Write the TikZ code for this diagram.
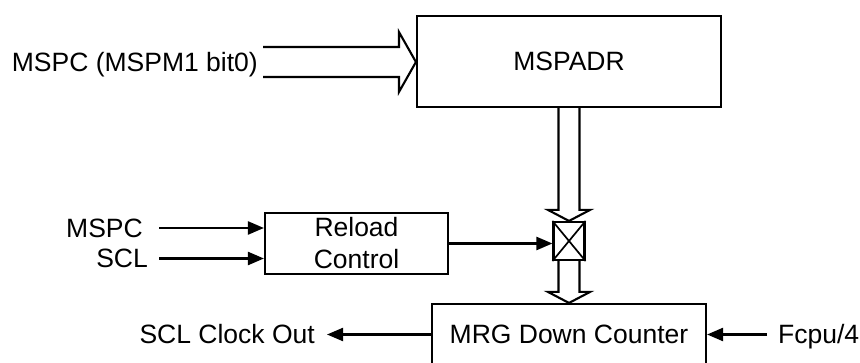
\documentclass[tikz,border=0pt]{standalone}
\usepackage{fontspec}
\setmainfont{Liberation Sans}
\usetikzlibrary{positioning,arrows.meta,calc}

\begin{document}
\begin{tikzpicture}[
  x=1pt, y=-1pt,
  font=\fontsize{26.5}{32}\selectfont,
  block/.style={rectangle, draw, line width=2.1pt, inner sep=0pt, align=center},
  sig/.style={inner sep=0pt, text height=19pt, text depth=0pt},
  arrow/.style={-{Triangle[length=16pt,width=13pt]}, line width=2.2pt},
  bus/.style={line width=2.1pt, line join=miter}
]
\useasboundingbox (0,0) rectangle (860,363);
\clip (0,0) rectangle (860,363);

% Blocks
\node[block, minimum width=304pt, minimum height=91pt] (adr) at (569,61.5) {MSPADR};
\node[block, minimum width=183pt, minimum height=61pt] (reload) at (356.5,243.5) {Reload\\Control};
\node[block, minimum width=31pt, minimum height=38pt] (xbox) at (569,241) {};
\node[block, minimum width=274pt, minimum height=61pt] (mrg) at (569,334.5) {MRG Down Counter};

% Free ends of the signals
\coordinate (adrin) at (263,62);
\coordinate (mspcin) at (159,228);
\coordinate (sclin) at (159,258.5);
\coordinate (clkout) at (327,334.5);
\coordinate (fcpuin) at (767,334.5);

% Signal names
\node[sig, left=5pt of adrin] (adrlbl) {MSPC (MSPM1 bit0)};
\node[sig, left=16pt of mspcin] (mspclbl) {MSPC};
\node[sig, left=11pt of sclin] (scllbl) {SCL};
\node[sig, left=12pt of clkout] (clklbl) {SCL Clock Out};
\node[sig, right=11pt of fcpuin] (fcpulbl) {Fcpu/4};

% Switch cross
\draw[line width=1.7pt] (xbox.north west) -- (xbox.south east)
                        (xbox.north east) -- (xbox.south west);

% Buses
\draw[bus] let \p1=(adrin), \p2=(adr.west) in
  (\x1,\y1+15pt) -- (\x2-17pt,\y1+15pt) -- (\x2-17pt,\y1+30pt) -- (\x2,\y1)
  -- (\x2-17pt,\y1-30pt) -- (\x2-17pt,\y1-15pt) -- (\x1,\y1-15pt);
\draw[bus] let \p1=(adr.south), \p2=(xbox.north) in
  (\x2-10.5pt,\y1) -- (\x2-10.5pt,\y2+11pt) -- (\x2-21pt,\y2+11pt) -- (\x2,\y2)
  -- (\x2+21pt,\y2+11pt) -- (\x2+10.5pt,\y2+11pt) -- (\x2+10.5pt,\y1);
\draw[bus] let \p1=(xbox.south), \p2=(mrg.north) in
  (\x2-10.5pt,\y1) -- (\x2-10.5pt,\y2+11pt) -- (\x2-21pt,\y2+11pt) -- (\x2,\y2)
  -- (\x2+21pt,\y2+11pt) -- (\x2+10.5pt,\y2+11pt) -- (\x2+10.5pt,\y1);

% Arrows
\draw[arrow] (mspcin) -- (mspcin -| reload.west);
\draw[arrow] (sclin) -- (sclin -| reload.west);
\draw[arrow] (reload.east) -- (reload.east -| xbox.west);
\draw[arrow] (mrg.west) -- (clkout);
\draw[arrow] (fcpuin) -- (mrg.east);

\end{tikzpicture}
\end{document}
